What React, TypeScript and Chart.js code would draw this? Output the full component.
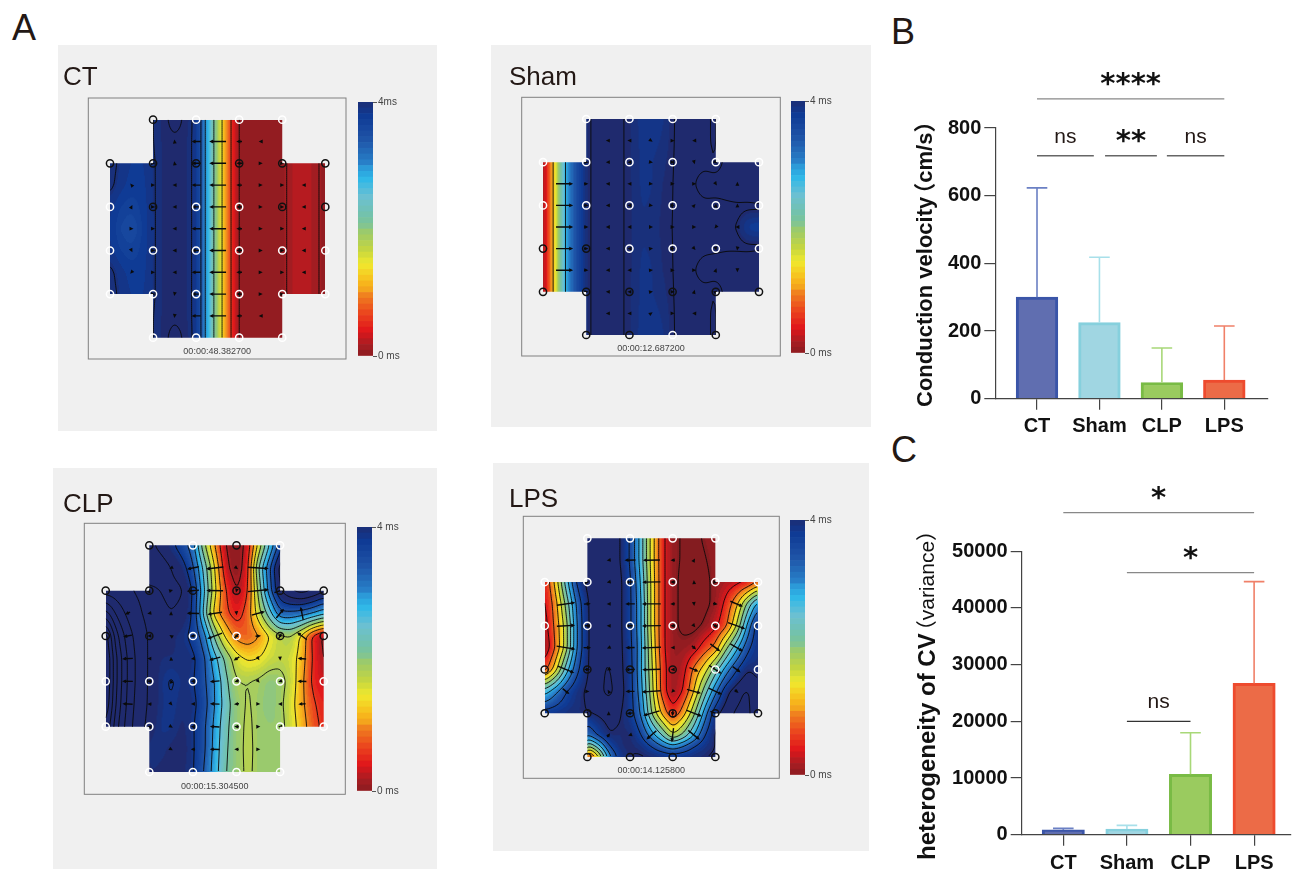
import React, { useEffect, useRef } from "react";
import { Chart, registerables } from "chart.js";

Chart.register(...registerables);

const _ = null;
const FONT = '"Liberation Sans", Arial, "Noto Sans CJK SC"';
const INK = "#231815";

// ---------- data: bar panels ----------
const categories = ["CT", "Sham", "CLP", "LPS"];
const velocityMeans = [300, 225, 48, 55];
const velocityUpper = [623, 418, 150, 215];
const varianceMeans = [850, 1000, 10650, 26700];
const varianceUpper = [1120, 1650, 18000, 44650];
const barFill = ["#606eb0", "#a0d6e2", "#9acb5f", "#ec6b47"];
const barEdge = ["#3a55a8", "#86d0dd", "#79bb45", "#ee4b2e"];
const whiskerColor = ["#6b80c4", "#a8e0ea", "#a8d878", "#f08068"];

// ---------- data: activation maps (ms); rows at mapRowsV, columns every 0.25 electrode spacing ----------
const mapRowsV = [0, 0.5, 1, 1.5, 2, 2.5, 3, 3.5, 4, 4.5, 5];
const lpsRowsV = [0, 0.5, 1, 1.5, 2, 2.5, 3, 3.5, 4, 4.5, 4.75, 5];

const ctField = [
  [_, _, _, _, 3.9, 3.99, 4.07, 4.0, 3.85, 2.85, 1.85, 0.75, 0.08, 0.05, 0.05, 0.05, 0.05, _, _, _, _],
  [_, _, _, _, 3.9, 3.98, 4.0, 3.98, 3.85, 2.85, 1.85, 0.75, 0.08, 0.05, 0.05, 0.05, 0.05, _, _, _, _],
  [3.97, 3.86, 3.78, 3.78, 3.88, 3.98, 3.98, 3.98, 3.85, 2.85, 1.85, 0.75, 0.08, 0.05, 0.05, 0.05, 0.1, 0.22, 0.24, 0.2, 0.08],
  [3.95, 3.82, 3.75, 3.76, 3.88, 3.98, 3.98, 3.98, 3.85, 2.85, 1.85, 0.75, 0.08, 0.05, 0.05, 0.05, 0.1, 0.22, 0.24, 0.2, 0.08],
  [3.82, 3.7, 3.65, 3.74, 3.88, 3.98, 3.98, 3.98, 3.85, 2.85, 1.85, 0.75, 0.08, 0.05, 0.05, 0.05, 0.1, 0.22, 0.24, 0.2, 0.08],
  [3.8, 3.6, 3.52, 3.72, 3.88, 3.98, 3.98, 3.98, 3.85, 2.85, 1.85, 0.75, 0.08, 0.05, 0.05, 0.05, 0.1, 0.22, 0.24, 0.2, 0.08],
  [3.82, 3.7, 3.65, 3.74, 3.88, 3.98, 3.98, 3.98, 3.85, 2.85, 1.85, 0.75, 0.08, 0.05, 0.05, 0.05, 0.1, 0.22, 0.24, 0.2, 0.08],
  [3.95, 3.82, 3.75, 3.76, 3.88, 3.98, 3.98, 3.98, 3.85, 2.85, 1.85, 0.75, 0.08, 0.05, 0.05, 0.05, 0.1, 0.22, 0.24, 0.2, 0.08],
  [3.97, 3.86, 3.78, 3.78, 3.88, 3.98, 3.98, 3.98, 3.85, 2.85, 1.85, 0.75, 0.08, 0.05, 0.05, 0.05, 0.1, 0.22, 0.24, 0.2, 0.08],
  [_, _, _, _, 3.9, 3.98, 4.0, 3.98, 3.85, 2.85, 1.85, 0.75, 0.08, 0.05, 0.05, 0.05, 0.05, _, _, _, _],
  [_, _, _, _, 3.9, 3.99, 4.07, 4.0, 3.85, 2.85, 1.85, 0.75, 0.08, 0.05, 0.05, 0.05, 0.05, _, _, _, _],
];
const shamField = [
  [_, _, _, _, 3.98, 4.03, 4.03, 4.02, 3.98, 3.84, 3.82, 3.84, 4.0, 4.03, 4.03, 4.02, 3.98, _, _, _, _],
  [_, _, _, _, 3.98, 4.03, 4.03, 4.02, 3.98, 3.85, 3.84, 3.88, 4.0, 4.03, 4.03, 4.02, 3.98, _, _, _, _],
  [0.1, 1.3, 2.8, 3.5, 3.98, 4.03, 4.03, 4.02, 3.98, 3.86, 3.86, 3.93, 4.0, 4.03, 4.03, 4.03, 3.99, 4.12, 4.12, 4.12, 4.12],
  [0.1, 1.3, 2.8, 3.5, 3.98, 4.03, 4.03, 4.02, 3.98, 3.86, 3.86, 3.96, 4.0, 4.03, 4.06, 4.14, 4.14, 4.14, 4.14, 4.14, 4.14],
  [0.1, 1.3, 2.8, 3.5, 3.98, 4.03, 4.03, 4.02, 3.98, 3.87, 3.88, 3.97, 4.0, 4.03, 4.03, 4.04, 4.03, 4.05, 4.06, 4.06, 4.07],
  [0.1, 1.3, 2.8, 3.5, 3.98, 4.03, 4.03, 4.02, 3.98, 3.87, 3.9, 3.98, 4.0, 4.03, 4.03, 4.03, 4.02, 4.02, 4.0, 3.76, 3.7],
  [0.1, 1.3, 2.8, 3.5, 3.98, 4.03, 4.03, 4.02, 3.98, 3.87, 3.88, 3.97, 4.0, 4.03, 4.03, 4.04, 4.05, 4.06, 4.06, 4.06, 4.07],
  [0.1, 1.3, 2.8, 3.5, 3.98, 4.03, 4.03, 4.02, 3.98, 3.86, 3.86, 3.96, 4.0, 4.03, 4.06, 4.14, 4.14, 4.14, 4.14, 4.14, 4.14],
  [0.1, 1.3, 2.8, 3.5, 3.98, 4.03, 4.03, 4.02, 3.98, 3.86, 3.86, 3.93, 4.0, 4.03, 4.03, 4.03, 3.99, 4.12, 4.12, 4.12, 4.12],
  [_, _, _, _, 3.98, 4.03, 4.03, 4.02, 3.98, 3.85, 3.84, 3.88, 4.0, 4.03, 4.03, 4.02, 3.98, _, _, _, _],
  [_, _, _, _, 3.98, 4.03, 4.03, 4.02, 3.98, 3.84, 3.82, 3.84, 4.0, 4.03, 4.03, 4.02, 3.98, _, _, _, _],
];
const clpField = [
  [_, _, _, _, 4.3, 4.1, 3.9, 3.6, 3.2, 1.9, 1.0, 0.15, 0.0, 0.3, 1.5, 2.6, 3.6, _, _, _, _],
  [_, _, _, _, 4.5, 4.4, 4.2, 4.0, 3.5, 2.5, 1.4, 0.3, 0.0, 0.4, 2.2, 3.3, 4.4, _, _, _, _],
  [4.4, 4.35, 4.25, 4.15, 4.1, 4.2, 4.3, 4.25, 3.8, 2.7, 1.5, 0.6, 0.15, 0.5, 1.9, 3.2, 4.2, 4.6, 4.8, 4.6, 4.3],
  [5.6, 4.9, 4.5, 4.25, 4.1, 4.1, 4.2, 4.1, 3.8, 2.5, 1.2, 0.7, 0.4, 0.75, 1.6, 2.4, 3.3, 3.3, 3.2, 3.0, 2.7],
  [6.9, 5.5, 4.8, 4.4, 4.15, 4.1, 4.0, 3.9, 3.7, 3.2, 2.1, 1.3, 0.85, 0.75, 0.95, 1.4, 1.7, 1.8, 1.3, 0.5, 0.1],
  [7.1, 5.8, 4.95, 4.45, 4.15, 3.95, 3.95, 3.95, 3.9, 3.5, 2.75, 2.1, 1.55, 1.35, 1.4, 1.6, 1.7, 1.6, 1.2, 0.55, 0.15],
  [7.1, 5.8, 4.95, 4.45, 4.15, 3.9, 3.75, 3.9, 3.85, 3.5, 3.0, 2.3, 1.8, 1.8, 1.85, 2.0, 1.95, 1.65, 1.1, 0.5, 0.3],
  [7.0, 5.7, 4.9, 4.4, 4.15, 3.9, 3.8, 3.95, 3.9, 3.6, 3.0, 2.4, 1.95, 1.75, 1.9, 2.05, 1.9, 1.55, 1.1, 0.65, 0.45],
  [6.6, 5.5, 4.8, 4.35, 4.1, 3.85, 3.85, 4.0, 3.85, 3.5, 2.9, 2.3, 1.95, 1.72, 1.9, 1.95, 1.95, 1.6, 1.2, 0.75, 0.5],
  [_, _, _, _, 3.85, 3.9, 4.0, 4.05, 3.85, 3.5, 2.85, 2.25, 1.95, 1.7, 1.9, 1.95, 1.95, _, _, _, _],
  [_, _, _, _, 3.95, 4.0, 4.05, 4.0, 3.85, 3.4, 2.8, 2.2, 1.95, 1.72, 1.9, 1.95, 1.95, _, _, _, _],
];
const lpsField = [
  [_, _, _, _, 4.2, 4.2, 4.2, 4.05, 3.6, 2.65, 1.45, 0.5, 0.1, -0.05, -0.1, 0.05, 0.1, _, _, _, _],
  [_, _, _, _, 4.2, 4.2, 4.2, 4.05, 3.6, 2.65, 1.45, 0.5, 0.1, -0.05, -0.15, -0.02, 0.1, _, _, _, _],
  [0.4, 1.3, 2.6, 3.7, 4.1, 4.2, 4.25, 4.1, 3.7, 2.8, 1.5, 0.5, 0.1, -0.1, -0.2, -0.1, 0.1, 0.2, 0.3, 0.4, 0.8],
  [0.3, 1.0, 2.1, 3.3, 4.0, 4.2, 4.25, 4.1, 3.7, 2.9, 1.5, 0.5, 0.1, -0.1, -0.2, -0.1, 0.1, 0.5, 1.1, 2.1, 3.0],
  [0.2, 0.9, 1.8, 3.2, 4.0, 4.2, 4.25, 4.1, 3.7, 2.9, 1.5, 0.5, 0.1, -0.1, -0.1, 0.05, 0.3, 0.7, 1.6, 2.9, 3.9],
  [0.05, 0.8, 1.8, 3.2, 4.0, 4.2, 4.25, 4.1, 3.75, 2.95, 1.6, 0.5, 0.1, 0.1, 0.2, 0.6, 0.9, 1.9, 2.7, 3.5, 3.9],
  [0.6, 1.4, 2.6, 3.5, 4.0, 4.2, 4.35, 4.1, 3.8, 2.9, 1.7, 0.6, 0.1, 0.25, 0.9, 1.4, 2.2, 3.0, 3.6, 4.0, 3.9],
  [2.6, 3.1, 3.6, 3.9, 4.05, 4.2, 4.4, 4.15, 3.8, 3.0, 1.8, 0.6, 0.1, 0.4, 1.2, 2.2, 3.1, 3.9, 4.2, 4.35, 4.1],
  [3.8, 3.85, 3.9, 3.95, 4.0, 4.05, 4.1, 4.05, 3.8, 3.2, 2.0, 1.1, 0.45, 1.0, 1.9, 3.0, 3.9, 4.2, 4.35, 4.4, 4.05],
  [_, _, _, _, 3.2, 3.7, 4.0, 3.95, 4.0, 3.65, 3.0, 2.4, 1.6, 2.1, 2.8, 3.6, 4.05, _, _, _, _],
  [_, _, _, _, 1.9, 2.6, 3.6, 3.95, 4.0, 3.9, 3.6, 3.2, 2.9, 3.2, 3.6, 3.85, 4.0, _, _, _, _],
  [_, _, _, _, 0.3, 1.4, 3.0, 3.8, 4.0, 4.05, 4.0, 3.95, 3.85, 3.9, 3.95, 4.0, 4.05, _, _, _, _],
];

const ctLevels = [0.15, 0.6, 1.4, 2.2, 3.0, 3.4, 3.9, 4.02];
const shamLevels = [1.25, 2.8, 4.0, 4.07];
const clpLevels = [0.2, 0.6, 1.0, 1.4, 1.8, 2.2, 2.6, 3.0, 3.4, 3.8, 4.2, 4.6, 5.0, 5.4, 5.8, 6.2, 6.6, 7.0];
const lpsLevels = [0, 0.4, 0.8, 1.2, 1.6, 2.0, 2.4, 2.8, 3.2, 3.6, 4.0, 4.3];

const electrodeSites = [
  [1, 0], [2, 0], [3, 0], [4, 0],
  [0, 1], [1, 1], [2, 1], [3, 1], [4, 1], [5, 1],
  [0, 2], [1, 2], [2, 2], [3, 2], [4, 2], [5, 2],
  [0, 3], [1, 3], [2, 3], [3, 3], [4, 3], [5, 3],
  [0, 4], [1, 4], [2, 4], [3, 4], [4, 4], [5, 4],
  [1, 5], [2, 5], [3, 5], [4, 5],
];
const ctBlack = ["1,0", "0,1", "1,1", "2,1", "3,1", "4,1", "5,1", "1,2", "4,2", "5,2"];
const shamBlack = ["0,3", "1,3", "0,4", "1,4", "2,4", "3,4", "4,4", "5,4", "1,5", "2,5", "4,5"];
const clpBlack = ["1,0", "3,0", "0,1", "1,1", "2,1", "3,1", "4,1", "5,1", "0,2", "1,2", "4,2", "5,2"];
const lpsBlack = ["0,3", "1,3", "2,3", "3,3", "0,4", "1,4", "2,4", "3,4", "4,4", "5,4", "1,5", "2,5", "3,5", "4,5"];

const colormapValues = [4, 3.76, 3.4, 3, 2.76, 2.5, 2.2, 1.9, 1.65, 1.45, 1.2, 0.95, 0.68, 0.4, 0.2, 0];
const colormapColors = [
  "#1f2a6e", "#0f3a94", "#1f55a8", "#2a8ad0", "#2fb8e8", "#6bc0d2", "#74c2a6", "#9cca6a",
  "#c5d640", "#f0e92e", "#f8bc1c", "#f08a1f", "#ec4a1e", "#e0161b", "#a81d22", "#841c20",
];

// ---------- layout ----------
const maps = [
  {
    name: "CT", stamp: "00:00:48.382700", field: ctField, rows: mapRowsV, levels: ctLevels, black: ctBlack, top: "4ms",
    panel: [58, 45, 379, 386], frame: [88.3, 98, 346, 359], origin: [110, 119.7], unit: [43.06, 43.6], bar: [357.7, 101.7, 15, 254],
    nameAt: [63, 63], stampY: 354,
  },
  {
    name: "Sham", stamp: "00:00:12.687200", field: shamField, rows: mapRowsV, levels: shamLevels, black: shamBlack, top: "4 ms",
    panel: [491, 45, 380, 382], frame: [521.7, 97.3, 780.3, 356], origin: [543, 119], unit: [43.2, 43.2], bar: [791.3, 101, 14.4, 251.7],
    nameAt: [509, 63], stampY: 351,
  },
  {
    name: "CLP", stamp: "00:00:15.304500", field: clpField, rows: mapRowsV, levels: clpLevels, black: clpBlack, top: "4 ms",
    panel: [53, 468, 384, 401], frame: [84.3, 523.3, 345.3, 794.3], origin: [105.7, 545.3], unit: [43.6, 45.34], bar: [356.7, 526.7, 15, 264],
    nameAt: [63, 490], stampY: 789,
  },
  {
    name: "LPS", stamp: "00:00:14.125800", field: lpsField, rows: lpsRowsV, levels: lpsLevels, black: lpsBlack, top: "4 ms",
    panel: [493, 463, 376, 388], frame: [523.3, 516.3, 779.3, 778.3], origin: [544.7, 538.3], unit: [42.66, 43.74], bar: [790, 520, 14.7, 255],
    nameAt: [509, 485], stampY: 773,
  },
];

function hexRgb(h: string) {
  return [parseInt(h.slice(1, 3), 16), parseInt(h.slice(3, 5), 16), parseInt(h.slice(5, 7), 16)];
}
const stopsRgb = colormapColors.map(hexRgb);
function colorOf(v: number) {
  const q = Math.round(Math.min(4, Math.max(0, v)) * 12) / 12;
  for (let i = 0; i < colormapValues.length - 1; i++) {
    const a = colormapValues[i], b = colormapValues[i + 1];
    if (q <= a && q >= b) {
      const t = (a - q) / (a - b);
      return stopsRgb[i].map((c, k) => c + (stopsRgb[i + 1][k] - c) * t);
    }
  }
  return stopsRgb[stopsRgb.length - 1];
}

function inMask(u: number, v: number) {
  return (u >= 0 && u <= 5 && v >= 1 && v <= 4) || (u >= 1 && u <= 4 && v >= 0 && v <= 5);
}

function resample(m: any, W: number, H: number) {
  const rows: (number | null)[][] = m.field;
  const ys: number[] = m.rows;
  const filled = rows.map((r, j) =>
    r.map((val, i) => {
      if (val !== null) return val;
      let best = 0, d = 1e9;
      rows.forEach((rr, jj) => {
        if (rr[i] !== null && Math.abs(jj - j) < d) { d = Math.abs(jj - j); best = rr[i] as number; }
      });
      return best;
    })
  );
  let f = new Float32Array(W * H);
  for (let j = 0; j < H; j++) {
    const v = (j / (H - 1)) * 5;
    let r = 0;
    while (r < ys.length - 2 && ys[r + 1] < v) r++;
    const tv = (v - ys[r]) / (ys[r + 1] - ys[r]);
    for (let i = 0; i < W; i++) {
      const cx = ((i / (W - 1)) * 5) / 0.25;
      const c = Math.min(19, Math.floor(cx));
      const tu = cx - c;
      const a = filled[r][c] * (1 - tu) + filled[r][c + 1] * tu;
      const b = filled[r + 1][c] * (1 - tu) + filled[r + 1][c + 1] * tu;
      f[j * W + i] = a * (1 - tv) + b * tv;
    }
  }
  const radius = 3;
  for (let pass = 0; pass < 2; pass++) {
    const g = new Float32Array(W * H);
    for (let j = 0; j < H; j++) for (let i = 0; i < W; i++) {
      let s = 0;
      for (let k = -radius; k <= radius; k++) s += f[j * W + Math.min(W - 1, Math.max(0, i + k))];
      g[j * W + i] = s / (2 * radius + 1);
    }
    const h = new Float32Array(W * H);
    for (let j = 0; j < H; j++) for (let i = 0; i < W; i++) {
      let s = 0;
      for (let k = -radius; k <= radius; k++) s += g[Math.min(H - 1, Math.max(0, j + k)) * W + i];
      h[j * W + i] = s / (2 * radius + 1);
    }
    f = h;
  }
  return f;
}

function fieldPlugin(m: any) {
  let f: Float32Array | null = null;
  let off: HTMLCanvasElement | null = null;
  return {
    id: "field",
    beforeDatasetsDraw(chart: any) {
      const { ctx, scales: { x, y }, chartArea: ca } = chart;
      const x0 = x.getPixelForValue(0), x5 = x.getPixelForValue(5);
      const y0 = y.getPixelForValue(0), y5 = y.getPixelForValue(5);
      const W = Math.round(x5 - x0) + 1, H = Math.round(y5 - y0) + 1;
      if (!f) {
        f = resample(m, W, H);
        off = document.createElement("canvas");
        off.width = W; off.height = H;
        const oc = off.getContext("2d")!;
        const img = oc.createImageData(W, H);
        for (let p = 0; p < W * H; p++) {
          const c = colorOf(f[p]);
          img.data[p * 4] = c[0]; img.data[p * 4 + 1] = c[1]; img.data[p * 4 + 2] = c[2]; img.data[p * 4 + 3] = 255;
        }
        oc.putImageData(img, 0, 0);
      }
      const px = (u: number) => x.getPixelForValue(u);
      const py = (v: number) => y.getPixelForValue(v);
      ctx.save();
      ctx.strokeStyle = "#808080";
      ctx.lineWidth = 1;
      ctx.strokeRect(ca.left, ca.top, ca.right - ca.left, ca.bottom - ca.top);
      ctx.font = `9px ${FONT}`;
      ctx.fillStyle = "#444";
      ctx.textAlign = "center";
      ctx.textBaseline = "alphabetic";
      ctx.fillText(m.stamp, (ca.left + ca.right) / 2, m.stampY - m.panel[1]);

      ctx.beginPath();
      ctx.moveTo(px(1), py(0)); ctx.lineTo(px(4), py(0)); ctx.lineTo(px(4), py(1)); ctx.lineTo(px(5), py(1));
      ctx.lineTo(px(5), py(4)); ctx.lineTo(px(4), py(4)); ctx.lineTo(px(4), py(5)); ctx.lineTo(px(1), py(5));
      ctx.lineTo(px(1), py(4)); ctx.lineTo(px(0), py(4)); ctx.lineTo(px(0), py(1)); ctx.lineTo(px(1), py(1));
      ctx.closePath();
      ctx.clip();
      ctx.drawImage(off!, x0, y0, x5 - x0, y5 - y0);

      const sx = (x5 - x0) / (W - 1), sy = (y5 - y0) / (H - 1);
      const step = 2;
      ctx.strokeStyle = "rgba(10,10,10,0.9)";
      ctx.lineWidth = 1;
      ctx.beginPath();
      for (const l of m.levels) {
        for (let j = 0; j + step < H; j += step) for (let i = 0; i + step < W; i += step) {
          const a = f![j * W + i], b = f![j * W + i + step];
          const c = f![(j + step) * W + i + step], d = f![(j + step) * W + i];
          const pts: number[][] = [];
          if (a < l !== b < l) pts.push([i + step * (l - a) / (b - a), j]);
          if (b < l !== c < l) pts.push([i + step, j + step * (l - b) / (c - b)]);
          if (d < l !== c < l) pts.push([i + step * (l - d) / (c - d), j + step]);
          if (a < l !== d < l) pts.push([i, j + step * (l - a) / (d - a)]);
          for (let k = 0; k + 1 < pts.length; k += 2) {
            ctx.moveTo(x0 + pts[k][0] * sx, y0 + pts[k][1] * sy);
            ctx.lineTo(x0 + pts[k + 1][0] * sx, y0 + pts[k + 1][1] * sy);
          }
        }
      }
      ctx.stroke();

      // conduction arrows follow the field: they point towards later activation
      ctx.fillStyle = "#0a0a0a";
      ctx.strokeStyle = "#0a0a0a";
      ctx.lineWidth = 1.4;
      const at = (i: number, j: number) => f![Math.min(H - 1, Math.max(0, j)) * W + Math.min(W - 1, Math.max(0, i))];
      const h = 6;
      const unitPx = (x5 - x0) / 5;
      for (let vi = 1; vi < 10; vi++) for (let ui = 1; ui < 10; ui++) {
        const u = ui / 2, v = vi / 2;
        const inner = (u > 0.9 && u < 4.1 && v > 0.4 && v < 4.6 && !(v < 1 && (u < 1.1 || u > 3.9)) && !(v > 4 && (u < 1.1 || u > 3.9))) ||
          (u > 0 && u < 5 && v > 1.1 && v < 3.9);
        if (!inner || !inMask(u, v)) continue;
        const i = Math.round((u / 5) * (W - 1)), j = Math.round((v / 5) * (H - 1));
        const gx = ((at(i + h, j) - at(i - h, j)) / (2 * h * sx)) * unitPx;
        const gy = ((at(i, j + h) - at(i, j - h)) / (2 * h * sy)) * unitPx;
        const mag = Math.hypot(gx, gy);
        const len = Math.min(21, mag * 4);
        const ang = Math.atan2(gy, gx);
        const cx = px(u), cy = py(v);
        ctx.save();
        ctx.translate(cx, cy);
        ctx.rotate(ang);
        if (len > 4) {
          ctx.beginPath();
          ctx.moveTo(-len / 2, 0);
          ctx.lineTo(len / 2 - 2, 0);
          ctx.stroke();
        }
        const tip = Math.max(2, len / 2);
        ctx.beginPath();
        ctx.moveTo(tip, 0);
        ctx.lineTo(tip - 4, -1.9);
        ctx.lineTo(tip - 4, 1.9);
        ctx.closePath();
        ctx.fill();
        ctx.restore();
      }
      ctx.restore();
    },
  };
}

function mapConfig(m: any) {
  const [pl, pt, pw, ph] = m.panel;
  const [fx0, fy0, fx1, fy1] = m.frame;
  const ring = (list: number[][], color: string) => ({
    type: "scatter",
    data: list.map(([u, v]) => ({ x: u, y: v })),
    pointStyle: "circle",
    pointRadius: 3.6,
    pointBorderWidth: 1.5,
    pointBorderColor: color,
    pointBackgroundColor: "rgba(0,0,0,0)",
    clip: false,
  });
  const isBlack = (s: number[]) => m.black.includes(s.join(","));
  return {
    type: "scatter",
    data: {
      datasets: [
        ring(electrodeSites.filter((s) => !isBlack(s)), "#ffffff"),
        ring(electrodeSites.filter(isBlack), "#111111"),
      ],
    },
    options: {
      animation: false, responsive: false, events: [],
      layout: { padding: { left: fx0 - pl, top: fy0 - pt, right: pl + pw - fx1, bottom: pt + ph - fy1 } },
      plugins: { legend: { display: false }, tooltip: { enabled: false } },
      scales: {
        x: { type: "linear", display: false, min: (fx0 - m.origin[0]) / m.unit[0], max: (fx1 - m.origin[0]) / m.unit[0] },
        y: { type: "linear", display: false, reverse: true, min: (fy0 - m.origin[1]) / m.unit[1], max: (fy1 - m.origin[1]) / m.unit[1] },
      },
    },
    plugins: [fieldPlugin(m)],
  };
}

const colorbarLevels = 44;
function colorbarConfig(m: any) {
  const step = 4 / colorbarLevels;
  const sets = [];
  for (let k = 0; k < colorbarLevels; k++) {
    const c = colorOf((k + 0.5) * step);
    sets.push({
      data: [step],
      backgroundColor: `rgb(${c[0]},${c[1]},${c[2]})`,
      borderWidth: 0,
      stack: "s",
      barPercentage: 1,
      categoryPercentage: 1,
    });
  }
  return {
    type: "bar",
    data: { labels: [""], datasets: sets },
    options: {
      animation: false, responsive: false, events: [],
      layout: { padding: { left: 0, top: 8, bottom: 8, right: 0 } },
      plugins: { legend: { display: false }, tooltip: { enabled: false } },
      scales: {
        x: { display: false, stacked: true },
        y: {
          position: "right", stacked: true, min: 0, max: 4,
          afterFit: (s: any) => { s.width = 40; },
          border: { display: false },
          grid: { drawOnChartArea: false, tickLength: 4, color: "#555", lineWidth: 1 },
          afterBuildTicks: (s: any) => { s.ticks = [{ value: 0 }, { value: 4 }]; },
          ticks: {
            padding: 1, color: "#444", font: { family: FONT, size: 10 },
            callback: (v: number) => (v === 4 ? m.top : "0 ms"),
          },
        },
      },
    },
  };
}

function barPlugin(p: any) {
  return {
    id: "barExtras",
    afterDatasetsDraw(chart: any) {
      const { ctx, scales: { x, y } } = chart;
      ctx.save();
      p.upper.forEach((hi: number, i: number) => {
        const cx = x.getPixelForValue(i);
        const top = y.getPixelForValue(hi), base = y.getPixelForValue(p.means[i]);
        ctx.strokeStyle = whiskerColor[i];
        ctx.lineWidth = 1.6;
        ctx.beginPath();
        ctx.moveTo(cx, base); ctx.lineTo(cx, top);
        ctx.moveTo(cx - 10.3, top); ctx.lineTo(cx + 10.3, top);
        ctx.stroke();
      });
      for (const b of p.brackets) {
        const ly = y.getPixelForValue(b.at);
        ctx.strokeStyle = b.color;
        ctx.lineWidth = 1.3;
        ctx.beginPath();
        ctx.moveTo(x.getPixelForValue(b.from), ly);
        ctx.lineTo(x.getPixelForValue(b.to), ly);
        ctx.stroke();
        const mid = x.getPixelForValue((b.from + b.to) / 2);
        ctx.textAlign = "center";
        ctx.textBaseline = "alphabetic";
        ctx.fillStyle = "#111";
        if (b.text === "ns") {
          ctx.font = `21px ${FONT}`;
          ctx.fillStyle = INK;
          ctx.fillText(b.text, mid, ly - 13);
        } else {
          ctx.font = 'bold 29px "DejaVu Sans"';
          ctx.fillText(b.text, mid, ly - 6);
        }
      }
      // axis title
      ctx.translate(p.titleX - p.canvas[0], p.titleY - p.canvas[1]);
      ctx.rotate(-Math.PI / 2);
      ctx.textAlign = "left";
      ctx.textBaseline = "middle";
      ctx.fillStyle = "#111";
      ctx.font = `bold ${p.titleSize}px ${FONT}`;
      ctx.fillText(p.title[0], 0, 0);
      const w = ctx.measureText(p.title[0]).width;
      ctx.font = `${p.titleWeight} ${p.title2Size}px ${FONT}`;
      ctx.fillText(p.title[1], w - 8, 0);
      ctx.restore();
    },
  };
}

function barConfig(p: any) {
  const [cl, ct, cw, ch] = p.canvas;
  const tickColor = "#444";
  return {
    type: "bar",
    data: {
      datasets: [{
        data: p.means.map((v: number, i: number) => ({ x: i, y: v })),
        backgroundColor: barFill,
        borderColor: barEdge,
        borderWidth: 3,
        borderSkipped: "bottom",
        barThickness: p.barW,
      }],
    },
    options: {
      animation: false, responsive: false, events: [],
      layout: { padding: { left: 20, top: p.plotTop - ct, right: cl + cw - p.plotRight, bottom: 0 } },
      plugins: { legend: { display: false }, tooltip: { enabled: false } },
      scales: {
        x: {
          type: "linear", offset: false, min: p.xMin, max: p.xMax,
          afterFit: (s: any) => { s.height = ct + ch - p.plotBottom; },
          afterBuildTicks: (s: any) => { s.ticks = categories.map((_c, i) => ({ value: i })); },
          border: { color: tickColor, width: 1.2 },
          grid: { offset: false, drawOnChartArea: false, tickLength: 11, color: tickColor, lineWidth: 1.2 },
          ticks: {
            autoSkip: false, maxRotation: 0, padding: p.xPad, color: "#111", font: { family: FONT, size: 20, weight: "bold" },
            callback: (v: number) => categories[v],
          },
        },
        y: {
          type: "linear", min: 0, max: p.yMax,
          afterFit: (s: any) => { s.width = p.plotLeft - cl - 20; },
          afterBuildTicks: (s: any) => {
            const t = [];
            for (let v = 0; v <= p.yMax; v += p.yStep) t.push({ value: v });
            s.ticks = t;
          },
          border: { color: tickColor, width: 1.2 },
          grid: { drawOnChartArea: false, tickLength: 11, color: tickColor, lineWidth: 1.2 },
          ticks: { padding: 3, color: "#111", font: { family: FONT, size: 20, weight: "bold" }, callback: (v: number) => String(v) },
        },
      },
    },
    plugins: [barPlugin(p)],
  };
}

const panelB = {
  canvas: [885, 60, 409, 385],
  plotLeft: 995.3, plotRight: 1267.7, plotTop: 128, plotBottom: 398.7,
  xMin: -0.668, xMax: 3.695, yMax: 800, yStep: 200, barW: 41.7, xPad: 5,
  means: velocityMeans, upper: velocityUpper,
  title: ["Conduction velocity", "（cm/s）"], titleWeight: "bold", titleSize: 22, title2Size: 22, titleX: 926, titleY: 407,
  brackets: [
    { from: 0, to: 3, at: 886, text: "****", color: "#888" },
    { from: 0, to: 0.91, at: 718, text: "ns", color: "#666" },
    { from: 1.09, to: 1.92, at: 718, text: "**", color: "#666" },
    { from: 2.08, to: 3, at: 718, text: "ns", color: "#666" },
  ],
};
const panelC = {
  canvas: [885, 470, 409, 403],
  plotLeft: 1021.7, plotRight: 1291, plotTop: 551.3, plotBottom: 834.7,
  xMin: -0.654, xMax: 3.58, yMax: 50000, yStep: 10000, barW: 42.3, xPad: 6,
  means: varianceMeans, upper: varianceUpper,
  title: ["heterogeneity of CV", "（variance）"], titleWeight: "normal", titleSize: 24, title2Size: 21, titleX: 928, titleY: 860,
  brackets: [
    { from: 0, to: 3, at: 56810, text: "*", color: "#888" },
    { from: 1, to: 3, at: 46225, text: "*", color: "#888" },
    { from: 1, to: 2, at: 20000, text: "ns", color: "#333" },
  ],
};

function ChartCanvas({ config, box }: { config: () => any; box: number[] }) {
  const ref = useRef<HTMLCanvasElement>(null);
  useEffect(() => {
    const chart = new Chart(ref.current as any, config());
    return () => chart.destroy();
  }, []);
  return (
    <canvas
      ref={ref}
      width={box[2]}
      height={box[3]}
      style={{ position: "absolute", left: box[0], top: box[1], width: box[2], height: box[3] }}
    />
  );
}

function Label({ text, x, y, size }: { text: string; x: number; y: number; size: number }) {
  return (
    <div style={{ position: "absolute", left: x, top: y, font: `${size}px/1 ${FONT}`, color: INK, whiteSpace: "nowrap" }}>
      {text}
    </div>
  );
}

export default function App() {
  return (
    <div style={{ position: "absolute", left: 0, top: 0, width: 1294, height: 873, background: "#fff", overflow: "hidden" }}>
      <Label text="A" x={12} y={10} size={36} />
      <Label text="B" x={891} y={14} size={36} />
      <Label text="C" x={891} y={432} size={36} />
      {maps.map((m) => (
        <React.Fragment key={m.name}>
          <div style={{ position: "absolute", left: m.panel[0], top: m.panel[1], width: m.panel[2], height: m.panel[3], background: "#f0f0f0" }} />
          <ChartCanvas config={() => mapConfig(m)} box={m.panel} />
          <ChartCanvas config={() => colorbarConfig(m)} box={[Math.round(m.bar[0]), Math.round(m.bar[1]) - 8, Math.round(m.bar[2]) + 40, Math.round(m.bar[3]) + 16]} />
          <Label text={m.name} x={m.nameAt[0]} y={m.nameAt[1]} size={26} />
        </React.Fragment>
      ))}
      <ChartCanvas config={() => barConfig(panelB)} box={panelB.canvas} />
      <ChartCanvas config={() => barConfig(panelC)} box={panelC.canvas} />
    </div>
  );
}
